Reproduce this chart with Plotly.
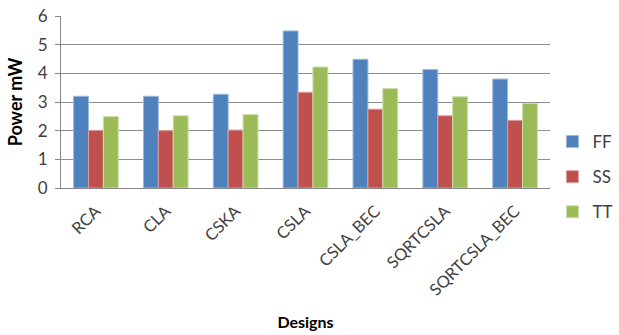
import plotly.graph_objects as go

designs = ["RCA", "CLA", "CSKA", "CSLA", "CSLA_BEC", "SQRTCSLA", "SQRTCSLA_BEC"]
ff = [3.20, 3.20, 3.27, 5.48, 4.49, 4.13, 3.80]
ss = [2.01, 2.00, 2.02, 3.34, 2.75, 2.52, 2.36]
tt = [2.49, 2.52, 2.56, 4.22, 3.47, 3.18, 2.95]

series = [
    ("FF", ff, "#4F81BD", "#9DB9DC"),
    ("SS", ss, "#C0504D", "#DDA09E"),
    ("TT", tt, "#9BBB59", "#CBDDA9"),
]

fig = go.Figure()
for name, vals, color, edge in series:
    fig.add_trace(go.Bar(
        x=designs, y=vals, name=name, legendgroup=name,
        marker=dict(color=color, line=dict(color=edge, width=1)),
    ))

font_family = "Lato, Carlito, Calibri, sans-serif"
fig.update_layout(
    width=619, height=335,
    margin=dict(l=61, r=69, t=16, b=147, autoexpand=False),
    paper_bgcolor="white", plot_bgcolor="white",
    barmode="group", bargap=0.36, bargroupgap=0,
    font=dict(family=font_family, size=16, color="#404040"),
    showlegend=True,
    legend=dict(x=1.005, y=0.064, xanchor="left", yanchor="middle",
                font=dict(size=17, color="#404040"), tracegroupgap=10,
                itemwidth=30),
    xaxis=dict(
        automargin=False,
        tickangle=-45, showgrid=False, showline=True, linecolor="#868686",
        linewidth=1, ticks="", tickfont=dict(size=16.5, color="#404040"),
        ticklabelstandoff=6,
        title=dict(text="<b>Designs</b>", font=dict(size=16, color="#000000"),
                   standoff=18),
    ),
    yaxis=dict(
        automargin=False,
        range=[0, 6], dtick=1, showgrid=True, gridcolor="#8C8C8C", gridwidth=1,
        showline=True, linecolor="#868686", linewidth=1,
        ticks="outside", ticklen=5, tickcolor="#868686",
        tickfont=dict(size=17, color="#404040"), ticklabelstandoff=4,
        title=dict(text="<b>Power mW</b>", font=dict(size=18, color="#000000"),
                   standoff=10),
        zeroline=False,
    ),
)

fig.write_html("out.html")
